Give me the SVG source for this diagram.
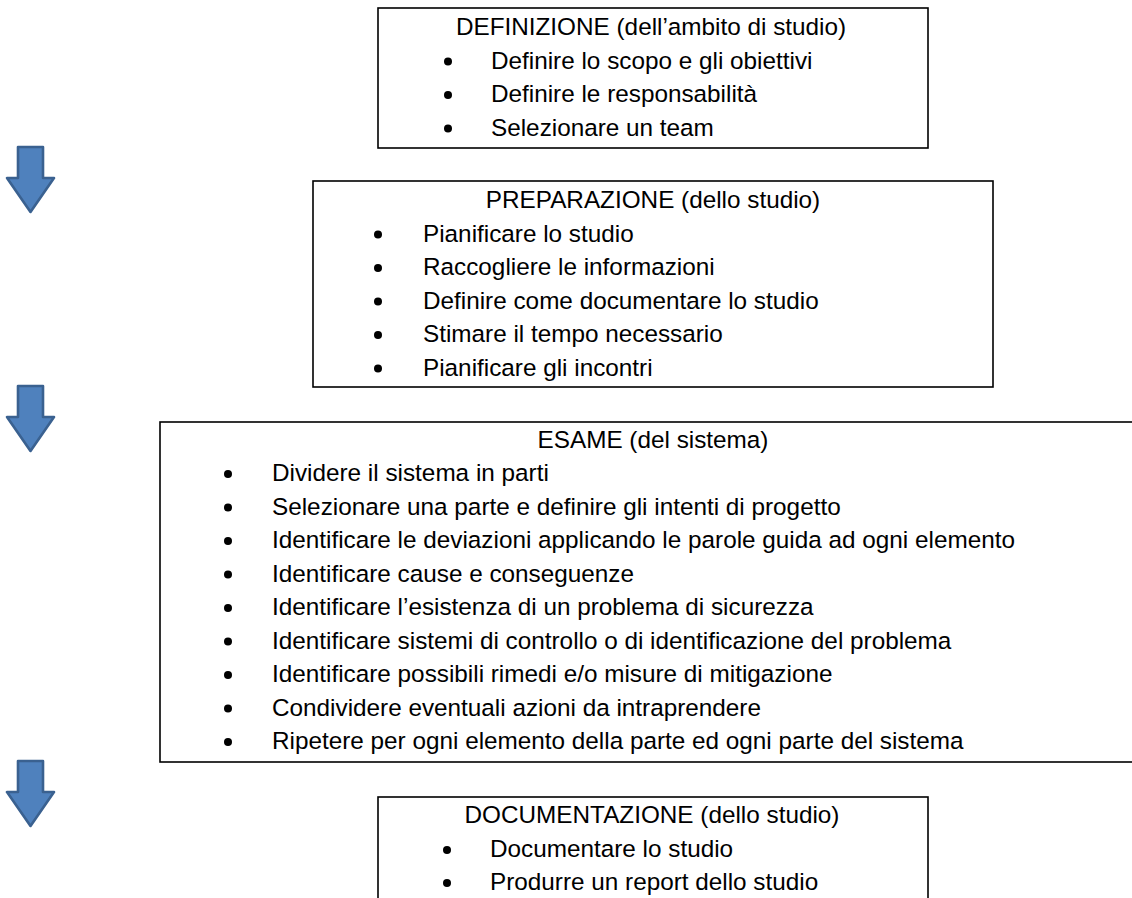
<svg xmlns="http://www.w3.org/2000/svg" width="1132" height="898" viewBox="0 0 1132 898">
<style>
.box{fill:#ffffff;stroke:#000000;stroke-width:1.6}
.t{font-family:"Liberation Sans",Arial,sans-serif;font-size:24.3px;fill:#000000}
.c{text-anchor:middle}
.b{fill:#000000}
.arr{fill:#4f81bd;stroke:#3a6190;stroke-width:2.6;stroke-linejoin:round}
</style>
<defs>
<path id="downArrow" d="M0,0 H25 V31 H36 L12.5,65 L-11,31 H0 Z"/>
</defs>
<rect width="1132" height="898" fill="#ffffff"/>

<g id="connectors">
<use href="#downArrow" class="arr" x="18" y="147"/>
<use href="#downArrow" class="arr" x="18" y="386"/>
<use href="#downArrow" class="arr" x="18" y="761"/>
</g>

<g id="definizione">
<rect class="box" x="378" y="8" width="550" height="140"/>
<text class="t c" x="651" y="35">DEFINIZIONE (dell’ambito di studio)</text>
<circle class="b" cx="448" cy="61.5" r="4"/>
<text class="t" x="491" y="68.5">Definire lo scopo e gli obiettivi</text>
<circle class="b" cx="448" cy="95" r="4"/>
<text class="t" x="491" y="102">Definire le responsabilità</text>
<circle class="b" cx="448" cy="128.5" r="4"/>
<text class="t" x="491" y="135.5">Selezionare un team</text>
</g>

<g id="preparazione">
<rect class="box" x="313" y="181" width="680" height="206"/>
<text class="t c" x="653" y="208">PREPARAZIONE (dello studio)</text>
<circle class="b" cx="378" cy="234.5" r="4"/>
<text class="t" x="423" y="241.5">Pianificare lo studio</text>
<circle class="b" cx="378" cy="268" r="4"/>
<text class="t" x="423" y="275">Raccogliere le informazioni</text>
<circle class="b" cx="378" cy="301.5" r="4"/>
<text class="t" x="423" y="308.5">Definire come documentare lo studio</text>
<circle class="b" cx="378" cy="335" r="4"/>
<text class="t" x="423" y="342">Stimare il tempo necessario</text>
<circle class="b" cx="378" cy="368.5" r="4"/>
<text class="t" x="423" y="375.5">Pianificare gli incontri</text>
</g>

<g id="esame">
<rect class="box" x="160" y="422" width="990" height="340"/>
<text class="t c" x="653" y="448">ESAME (del sistema)</text>
<circle class="b" cx="228" cy="474" r="4"/>
<text class="t" x="272" y="481">Dividere il sistema in parti</text>
<circle class="b" cx="228" cy="507.5" r="4"/>
<text class="t" x="272" y="514.5">Selezionare una parte e definire gli intenti di progetto</text>
<circle class="b" cx="228" cy="541" r="4"/>
<text class="t" x="272" y="548">Identificare le deviazioni applicando le parole guida ad ogni elemento</text>
<circle class="b" cx="228" cy="574.5" r="4"/>
<text class="t" x="272" y="581.5">Identificare cause e conseguenze</text>
<circle class="b" cx="228" cy="608" r="4"/>
<text class="t" x="272" y="615">Identificare l’esistenza di un problema di sicurezza</text>
<circle class="b" cx="228" cy="641.5" r="4"/>
<text class="t" x="272" y="648.5">Identificare sistemi di controllo o di identificazione del problema</text>
<circle class="b" cx="228" cy="675" r="4"/>
<text class="t" x="272" y="682">Identificare possibili rimedi e/o misure di mitigazione</text>
<circle class="b" cx="228" cy="708.5" r="4"/>
<text class="t" x="272" y="715.5">Condividere eventuali azioni da intraprendere</text>
<circle class="b" cx="228" cy="742" r="4"/>
<text class="t" x="272" y="749">Ripetere per ogni elemento della parte ed ogni parte del sistema</text>
</g>

<g id="documentazione">
<rect class="box" x="378" y="797" width="550" height="120"/>
<text class="t c" x="652" y="823">DOCUMENTAZIONE (dello studio)</text>
<circle class="b" cx="447" cy="850" r="4"/>
<text class="t" x="490" y="857">Documentare lo studio</text>
<circle class="b" cx="447" cy="883" r="4"/>
<text class="t" x="490" y="890">Produrre un report dello studio</text>
</g>
</svg>
